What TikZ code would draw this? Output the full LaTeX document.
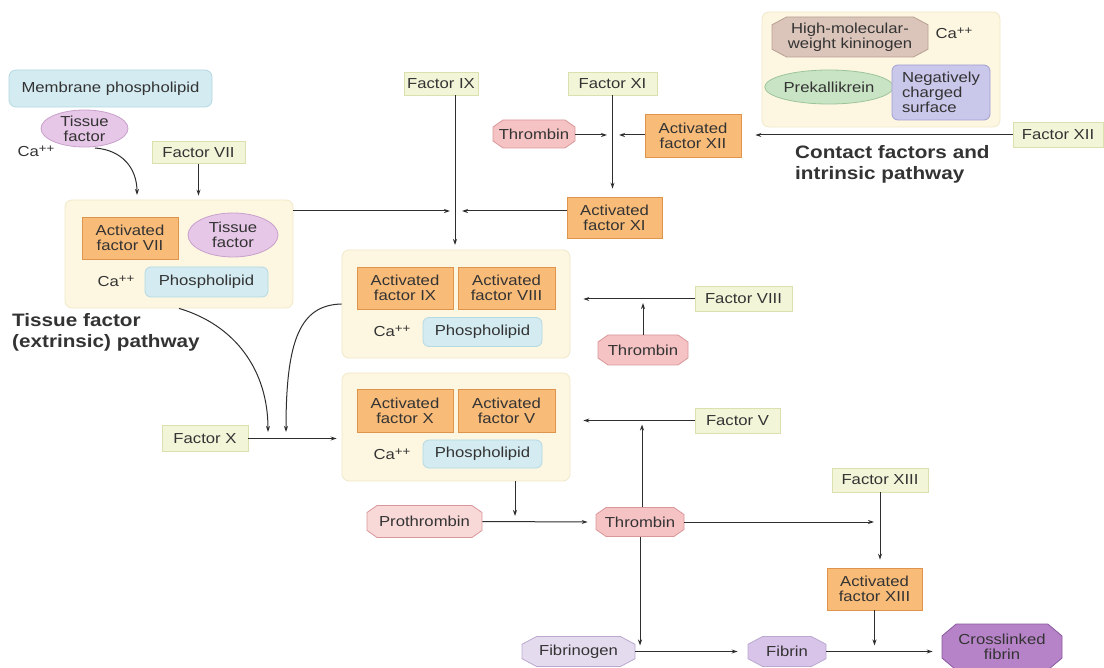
\documentclass[tikz,border=0pt]{standalone}
\usepackage{fontspec}
\setmainfont{Liberation Sans}[FakeStretch=1.15]
\usetikzlibrary{shapes.geometric,shapes.misc,arrows.meta,calc}
\definecolor{txt}{HTML}{333333}
\definecolor{lnc}{HTML}{2E2E2E}
\definecolor{ffill}{HTML}{F3F5D8}
\definecolor{fdraw}{HTML}{DCE0AE}
\definecolor{cfill}{HTML}{FDF7E2}
\definecolor{cdraw}{HTML}{F0E8C8}
\definecolor{ofill}{HTML}{F8BB78}
\definecolor{odraw}{HTML}{DE944C}
\definecolor{bfill}{HTML}{D3EBF1}
\definecolor{bdraw}{HTML}{B5D9E2}
\definecolor{pfill}{HTML}{E6C7E7}
\definecolor{pdraw}{HTML}{C8A0CB}
\definecolor{tfill}{HTML}{F6C3C5}
\definecolor{tdraw}{HTML}{D9979A}
\definecolor{prfill}{HTML}{F9D8D8}
\definecolor{fgfill}{HTML}{E5DBEE}
\definecolor{fgdraw}{HTML}{BBA8CF}
\definecolor{fbfill}{HTML}{D9C4E9}
\definecolor{cffill}{HTML}{B783C8}
\definecolor{cfdraw}{HTML}{8A5A9F}
\definecolor{hfill}{HTML}{DBC5BA}
\definecolor{hdraw}{HTML}{B89E90}
\definecolor{gfill}{HTML}{C9E4C5}
\definecolor{gdraw}{HTML}{9CC498}
\definecolor{nfill}{HTML}{C9C7EA}
\definecolor{ndraw}{HTML}{A29FD2}
\newcommand{\caion}{Ca\raisebox{0.55ex}{\fontsize{11.5}{11.5}\selectfont ++}}
\tikzset{
  lbl/.style={inner sep=0pt, align=center, text=txt, font=\fontsize{14.5}{15}\selectfont},
  head/.style={inner sep=0pt, align=left, text=txt, font=\fontsize{18}{21}\selectfont\bfseries},
  facbox/.style={lbl, rectangle, fill=ffill, draw=fdraw, line width=0.8pt},
  actbox/.style={lbl, rectangle, fill=ofill, draw=odraw, line width=0.8pt},
  cplx/.style={rectangle, rounded corners=7pt, fill=cfill, draw=cdraw, line width=0.8pt, inner sep=0pt},
  plbox/.style={lbl, rectangle, rounded corners=6pt, fill=bfill, draw=bdraw, line width=0.8pt},
  tfell/.style={lbl, ellipse, fill=pfill, draw=pdraw, line width=0.8pt},
  thrbox/.style={lbl, chamfered rectangle, chamfered rectangle xsep=5pt, chamfered rectangle angle=55, fill=tfill, draw=tdraw, line width=0.8pt},
  prbox/.style={thrbox, fill=prfill},
  hexbox/.style={lbl, chamfered rectangle, chamfered rectangle xsep=8pt, chamfered rectangle angle=62, line width=0.8pt},
  arr/.style={draw=lnc, line width=1pt, -{Stealth[length=6pt,width=4pt]}},
}
\begin{document}
\begin{tikzpicture}[x=1pt,y=-1pt]
\useasboundingbox[fill=white] (0,0) rectangle (1104,668);

% contact factors
\node[cplx, minimum width=238pt, minimum height=115pt] (ctc) at (881,69.5) {};
\node[hexbox, fill=hfill, draw=hdraw, minimum width=156pt, minimum height=40pt] (hmwk) at (850,37) {High-molecular-\\weight kininogen};
\node[lbl] (ca0) at (954,33) {\caion};
\node[lbl, ellipse, fill=gfill, draw=gdraw, line width=0.8pt, minimum width=116pt, minimum height=34pt] (pk) at (829,87) {Prekallikrein};
\node[lbl, align=left, rectangle, rounded corners=6pt, fill=nfill, draw=ndraw, line width=0.8pt, minimum width=98pt, minimum height=55pt] (ns) at (941,92.5) {Negatively\\charged\\surface};
\node[facbox, minimum width=90pt, minimum height=25pt] (f12) at (1058,135) {Factor XII};
\node[head, anchor=west] (cfip) at (795,164) {Contact factors and\\intrinsic pathway};

% top middle
\node[facbox, minimum width=74pt, minimum height=23pt] (f9) at (441,83.5) {Factor IX};
\node[facbox, minimum width=89pt, minimum height=23pt] (f11) at (612.5,83.5) {Factor XI};
\node[thrbox, minimum width=82pt, minimum height=28pt] (t1) at (534,134) {Thrombin};
\node[actbox, minimum width=96pt, minimum height=43pt] (a12) at (693,135.5) {Activated\\factor XII};
\node[actbox, minimum width=95pt, minimum height=41pt] (a11) at (614.5,217.5) {Activated\\factor XI};

% extrinsic
\node[lbl, rectangle, rounded corners=7pt, fill=bfill, draw=bdraw, line width=0.8pt, minimum width=203pt, minimum height=37pt] (mp) at (110.5,88.5) {Membrane phospholipid};
\node[tfell, minimum width=87pt, minimum height=37pt] (tf1) at (84.5,128.5) {Tissue\\factor};
\node[lbl] (ca1) at (36,151) {\caion};
\node[facbox, minimum width=93pt, minimum height=22pt] (f7) at (198.5,152.5) {Factor VII};
\node[cplx, minimum width=228pt, minimum height=108pt] (b1) at (179,254) {};
\node[actbox, minimum width=96pt, minimum height=42pt] (a7) at (130,238) {Activated\\factor VII};
\node[tfell, minimum width=90pt, minimum height=44pt] (tf2) at (233,235) {Tissue\\factor};
\node[lbl] (ca2) at (116,281) {\caion};
\node[plbox, minimum width=123pt, minimum height=30pt] (pl1) at (206.5,282) {Phospholipid};
\node[head, anchor=west] (tfp) at (12,332) {Tissue factor\\(extrinsic) pathway};

% complex IXa/VIIIa
\node[cplx, minimum width=228pt, minimum height=108pt] (b2) at (456,304) {};
\node[actbox, minimum width=96pt, minimum height=42pt] (a9) at (405,288) {Activated\\factor IX};
\node[actbox, minimum width=97pt, minimum height=42pt] (a8) at (506.5,288) {Activated\\factor VIII};
\node[lbl] (ca3) at (392,331) {\caion};
\node[plbox, minimum width=119pt, minimum height=29pt] (pl2) at (482.5,332) {Phospholipid};
\node[facbox, minimum width=97pt, minimum height=25pt] (f8) at (743.5,299) {Factor VIII};
\node[thrbox, minimum width=90pt, minimum height=30pt] (t2) at (643,350) {Thrombin};

% complex Xa/Va
\node[cplx, minimum width=228pt, minimum height=108pt] (b3) at (456,427) {};
\node[actbox, minimum width=96pt, minimum height=43pt] (a10) at (405,410.5) {Activated\\factor X};
\node[actbox, minimum width=97pt, minimum height=43pt] (a5) at (506.5,410.5) {Activated\\factor V};
\node[lbl] (ca4) at (392,454) {\caion};
\node[plbox, minimum width=119pt, minimum height=28pt] (pl3) at (482.5,454) {Phospholipid};
\node[facbox, minimum width=85pt, minimum height=25pt] (f5) at (737.5,420.5) {Factor V};
\node[facbox, minimum width=86pt, minimum height=26pt] (fx) at (205,438.5) {Factor X};

% bottom
\node[prbox, minimum width=115pt, minimum height=32pt] (pro) at (424.5,521.5) {Prothrombin};
\node[thrbox, minimum width=88pt, minimum height=29pt] (t3) at (640,522) {Thrombin};
\node[facbox, minimum width=96pt, minimum height=24pt] (f13) at (880,480) {Factor XIII};
\node[actbox, minimum width=95pt, minimum height=42pt] (a13) at (874.5,589) {Activated\\factor XIII};
\node[hexbox, fill=fgfill, draw=fgdraw, minimum width=113pt, minimum height=30pt] (fg) at (578.5,651.5) {Fibrinogen};
\node[hexbox, fill=fbfill, draw=fgdraw, minimum width=78pt, minimum height=30pt] (fb) at (787,651.5) {Fibrin};
\node[lbl, chamfered rectangle, chamfered rectangle xsep=10pt, chamfered rectangle angle=50, fill=cffill, draw=cfdraw, line width=0.8pt, minimum width=120pt, minimum height=46pt] (cf) at (1002,647) {Crosslinked\\fibrin};

% connectors
\coordinate (c1s) at (95,148);
\coordinate (c1e) at (137,195);
\draw[arr] (c1s) .. controls (122,150) and (137,168) .. (c1e);
\draw[arr] (f7.south) -- ($(f7.south |- b1.north)+(0,-4)$);
\coordinate (e1) at (450,211);
\coordinate (e2) at (462,211);
\draw[arr] (b1.east |- e1) -- (e1);
\draw[arr] (a11.west |- e2) -- (e2);
\coordinate (e3) at (455,245);
\draw[arr] (f9.south -| e3) -- (e3);
\coordinate (e4) at (607,135);
\coordinate (e5) at (619,135);
\draw[arr] (t1.east |- e4) -- (e4);
\draw[arr] (a12.west |- e5) -- (e5);
\draw[arr] (f11.south) -- ($(f11.south |- a11.north)+(0,-8)$);
\draw[arr] (f12.west) -- ($(a12.east |- f12.west)+(14,0)$);
\coordinate (e7) at (268,432);
\coordinate (e8) at (286,432);
\draw[arr] (b1.south) .. controls (235,325) and (268,370) .. (e7);
\draw[arr] (b2.west) .. controls (300,305) and (286,340) .. (e8);
\draw[arr] (fx.east) -- ($(b3.west |- fx.east)+(-5,0)$);
\draw[arr] (f8.west) -- ($(b2.east |- f8.west)+(13,0)$);
\draw[arr] (t2.north) -- ($(t2.north |- f8.west)+(0,4)$);
\draw[arr] (f5.west) -- ($(b3.east |- f5.west)+(13,0)$);
\draw[arr] ($(t3.north)+(2,0)$) -- ($(t3.north |- f5.west)+(2,4)$);
\coordinate (e9) at (515,516);
\draw[arr] (b3.south -| e9) -- (e9);
\draw[arr] (pro.east) -- ($(t3.west)+(-8,0)$);
\draw[arr] (t3.east) -- ($(t3.east -| f13.south)+(-6,0)$);
\draw[arr] (f13.south) -- ($(f13.south |- a13.north)+(0,-8)$);
\draw[arr] (t3.south) -- ($(t3.south |- fg.east)+(0,-6)$);
\draw[arr] (fg.east) -- ($(fb.west)+(-10,0)$);
\draw[arr] (fb.east) -- ($(cf.west |- fb.east)+(-9,0)$);
\draw[arr] (a13.south) -- ($(a13.south |- fb.east)+(0,-6)$);
\end{tikzpicture}
\end{document}
